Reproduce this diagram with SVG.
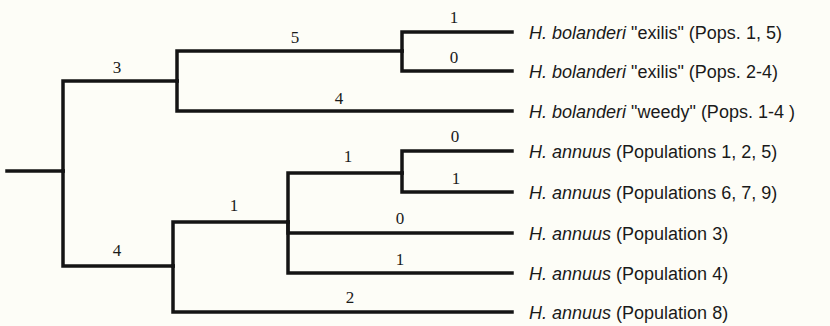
<svg xmlns="http://www.w3.org/2000/svg" width="830" height="326" viewBox="0 0 830 326">
  <style>
    .br { fill: none; stroke: #141414; stroke-width: 3.5; stroke-linecap: square; stroke-linejoin: miter; }
    .len { font-family: "Liberation Serif", "Times New Roman", serif; font-size: 17px; fill: #1a1a1a; text-anchor: middle; }
    .taxon { font-family: "Liberation Sans", Arial, Helvetica, sans-serif; font-size: 18px; fill: #1a1a1a; }
    .sp { font-style: italic; }
  </style>
  <rect width="830" height="326" fill="#fdfdf7"/>

  <!-- tree branches (rectangular cladogram) -->
  <g id="connectors">
    <path class="br" d="M7 171 H63"/>
    <!-- root to bolanderi clade -->
    <path class="br" d="M63 171 V81 H177"/>
    <!-- root to annuus clade -->
    <path class="br" d="M63 171 V266 H173"/>
    <!-- bolanderi clade -->
    <path class="br" d="M177 81 V51 H402"/>
    <path class="br" d="M177 81 V111 H512"/>
    <path class="br" d="M402 51 V32 H512"/>
    <path class="br" d="M402 51 V71 H512"/>
    <!-- annuus clade -->
    <path class="br" d="M173 266 V222 H288"/>
    <path class="br" d="M173 266 V312 H512"/>
    <path class="br" d="M288 222 V173 H402"/>
    <path class="br" d="M288 222 V233 H512"/>
    <path class="br" d="M288 222 V273 H512"/>
    <path class="br" d="M402 173 V151 H512"/>
    <path class="br" d="M402 173 V192 H512"/>
  </g>

  <!-- branch lengths -->
  <g id="branch-lengths">
    <text class="len" x="117" y="73">3</text>
    <text class="len" x="295" y="43">5</text>
    <text class="len" x="339" y="104">4</text>
    <text class="len" x="454" y="23">1</text>
    <text class="len" x="454" y="63">0</text>
    <text class="len" x="117" y="256">4</text>
    <text class="len" x="234" y="211">1</text>
    <text class="len" x="348" y="162">1</text>
    <text class="len" x="455" y="142">0</text>
    <text class="len" x="456" y="184">1</text>
    <text class="len" x="400" y="224">0</text>
    <text class="len" x="400" y="265">1</text>
    <text class="len" x="350" y="303">2</text>
  </g>

  <!-- terminal taxa -->
  <g id="taxon-bolanderi-exilis-1-5"><text class="taxon" x="529" y="38.5"><tspan class="sp">H. bolanderi</tspan> "exilis" (Pops. 1, 5)</text></g>
  <g id="taxon-bolanderi-exilis-2-4"><text class="taxon" x="529" y="77.5"><tspan class="sp">H. bolanderi</tspan> "exilis" (Pops. 2-4)</text></g>
  <g id="taxon-bolanderi-weedy"><text class="taxon" x="529" y="117.5"><tspan class="sp">H. bolanderi</tspan>  "weedy" (Pops. 1-4 )</text></g>
  <g id="taxon-annuus-1-2-5"><text class="taxon" x="529" y="157.5"><tspan class="sp">H. annuus</tspan> (Populations 1, 2, 5)</text></g>
  <g id="taxon-annuus-6-7-9"><text class="taxon" x="529" y="198.5"><tspan class="sp">H. annuus</tspan> (Populations 6, 7, 9)</text></g>
  <g id="taxon-annuus-3"><text class="taxon" x="529" y="239.5"><tspan class="sp">H. annuus</tspan> (Population 3)</text></g>
  <g id="taxon-annuus-4"><text class="taxon" x="529" y="279.5"><tspan class="sp">H. annuus</tspan> (Population 4)</text></g>
  <g id="taxon-annuus-8"><text class="taxon" x="529" y="318.5"><tspan class="sp">H. annuus</tspan> (Population 8)</text></g>
</svg>
